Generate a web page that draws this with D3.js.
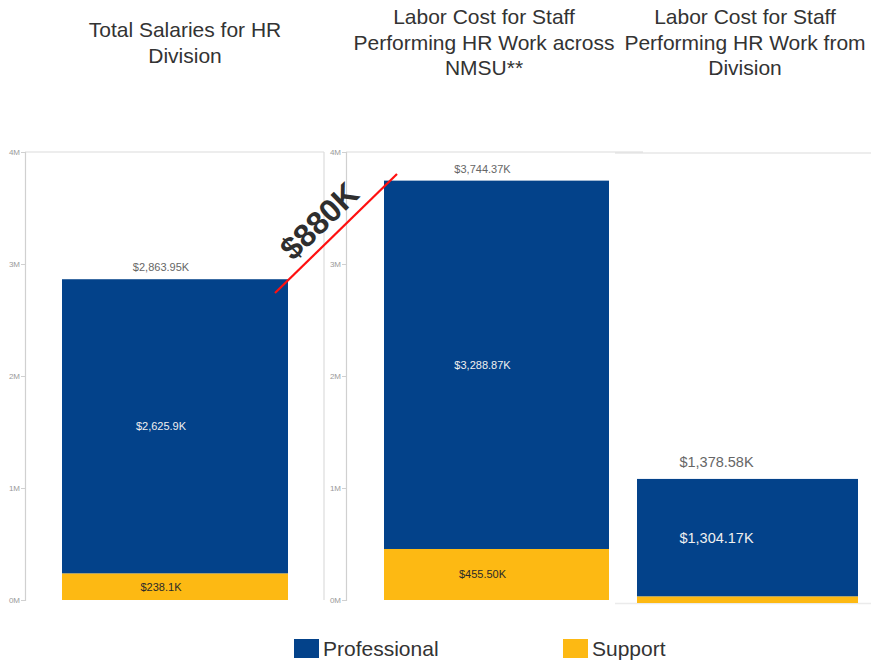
<!DOCTYPE html>
<html>
<head>
<meta charset="utf-8">
<script src="https://cdn.jsdelivr.net/npm/d3@7/dist/d3.min.js"></script>
<style>
  html, body { margin: 0; padding: 0; background: #fff; }
  svg { display: block; font-family: "Liberation Sans", Arial, sans-serif; }
</style>
</head>
<body>
<svg id="chart" width="871" height="661"></svg>
<script>
// Chart data (values in $K)
const categories = [
  ["Total Salaries for HR", "Division"],
  ["Labor Cost for Staff", "Performing HR Work across", "NMSU**"],
  ["Labor Cost for Staff", "Performing HR Work from", "Division"]
];
const professional = [2625.9, 3288.87, 1304.17];
const support = [238.1, 455.50, 74.41];
const totals = [2863.95, 3744.37, 1378.58];
const professionalLabels = ["$2,625.9K", "$3,288.87K", "$1,304.17K"];
const supportLabels = ["$238.1K", "$455.50K", ""];
const totalLabels = ["$2,863.95K", "$3,744.37K", "$1,378.58K"];
const tickValues = [0, 1000, 2000, 3000, 4000];
const tickLabels = ["0M", "1M", "2M", "3M", "4M"];
const seriesNames = ["Professional", "Support"];
const gapLabel = "$880K";

const colors = { Professional: "#03428a", Support: "#fdb913" };

// Panel layout
const panels = [
  { x0: 25, x1: 324, barX: 62, barW: 226, yTop: 152, yBase: 600, max: 4000, axis: true,
    frameRight: true, frameBottom: false, titleX: 185, titleY: 37, labelShift: -14, labelSize: 11, bigLabels: false },
  { x0: 346, x1: 643, barX: 384, barW: 225, yTop: 152, yBase: 600, max: 4000, axis: true,
    frameRight: false, frameBottom: false, titleX: 484, titleY: 24, labelShift: -14, labelSize: 11, bigLabels: false },
  { x0: 615, x1: 871, barX: 637, barW: 221, yTop: 153, yBase: 603, max: 5000, axis: false,
    frameRight: false, frameBottom: true, titleX: 745, titleY: 24, labelShift: -31, labelSize: 14.5, bigLabels: true }
];

const svg = d3.select("#chart");

panels.forEach((p, i) => {
  const y = d3.scaleLinear().domain([0, p.max]).range([p.yBase, p.yTop]);
  const g = svg.append("g");

  // frame lines
  g.append("line").attr("x1", p.x0).attr("x2", p.x1).attr("y1", p.yTop).attr("y2", p.yTop)
    .attr("stroke", "#dcdcdc").attr("stroke-width", 1.2);
  if (p.frameRight) {
    g.append("line").attr("x1", p.x1).attr("x2", p.x1).attr("y1", p.yTop).attr("y2", p.yBase)
      .attr("stroke", "#dcdcdc").attr("stroke-width", 1.2);
  }
  if (p.frameBottom) {
    g.append("line").attr("x1", p.x0).attr("x2", p.x1).attr("y1", p.yBase + 0.5).attr("y2", p.yBase + 0.5)
      .attr("stroke", "#ebebeb").attr("stroke-width", 1.5);
  }

  // value axis
  if (p.axis) {
    const ax = g.append("g").attr("transform", `translate(${p.x0},0)`)
      .call(d3.axisLeft(y).tickValues(tickValues).tickSize(4).tickPadding(1)
        .tickFormat((d, k) => tickLabels[k]));
    ax.select(".domain").attr("stroke", "#d0d0d0").attr("stroke-width", 1.2);
    ax.selectAll(".tick line").attr("stroke", "#d0d0d0");
    ax.selectAll(".tick text").attr("fill", "#9a9a9a").attr("font-size", 8)
      .attr("font-family", "Liberation Sans, Arial, sans-serif");
  }

  // stacked bar
  const stack = [
    { key: "Support", y0: 0, y1: support[i] },
    { key: "Professional", y0: support[i], y1: support[i] + professional[i] }
  ];
  g.selectAll("rect.seg").data(stack).join("rect")
    .attr("class", "seg")
    .attr("x", p.barX).attr("width", p.barW)
    .attr("y", d => y(d.y1)).attr("height", d => y(d.y0) - y(d.y1))
    .attr("fill", d => colors[d.key]);

  const cx = p.barX + p.barW / 2 + p.labelShift;

  // total above bar
  g.append("text").attr("x", cx).attr("y", y(totals[i]) - (p.bigLabels ? 12 : 8))
    .attr("text-anchor", "middle").attr("font-size", p.labelSize).attr("fill", "#666")
    .text(totalLabels[i]);

  // professional label
  g.append("text").attr("x", cx).attr("y", (y(support[i]) + y(totals[i])) / 2)
    .attr("dy", "0.35em").attr("text-anchor", "middle").attr("font-size", p.labelSize)
    .attr("fill", "#f0f0f0").text(professionalLabels[i]);

  // support label
  if (supportLabels[i]) {
    g.append("text").attr("x", cx).attr("y", (y(0) + y(support[i])) / 2)
      .attr("dy", "0.35em").attr("text-anchor", "middle").attr("font-size", p.labelSize)
      .attr("fill", "#2a2a2a").text(supportLabels[i]);
  }

  // title
  const t = svg.append("text").attr("text-anchor", "middle").attr("font-size", 21).attr("fill", "#333");
  categories[i].forEach((line, k) => {
    t.append("tspan").attr("x", p.titleX).attr("y", p.titleY + k * 25.5).text(line);
  });
});

// gap annotation between the first two totals
const ann = svg.append("g");
ann.append("line").attr("x1", 275).attr("y1", 293).attr("x2", 397).attr("y2", 174)
  .attr("stroke", "#ff1010").attr("stroke-width", 2.2);
ann.append("text").attr("transform", "translate(327,229) rotate(-44)")
  .attr("text-anchor", "middle").attr("font-size", 32).attr("font-weight", "bold")
  .attr("fill", "#2e2e2e").text(gapLabel);

// legend
const legendX = [294, 563];
seriesNames.forEach((name, k) => {
  svg.append("rect").attr("x", legendX[k]).attr("y", 639).attr("width", 25).attr("height", 19)
    .attr("fill", colors[name]);
  svg.append("text").attr("x", legendX[k] + 29).attr("y", 656).attr("font-size", 21)
    .attr("fill", "#333").text(name);
});
</script>
</body>
</html>
